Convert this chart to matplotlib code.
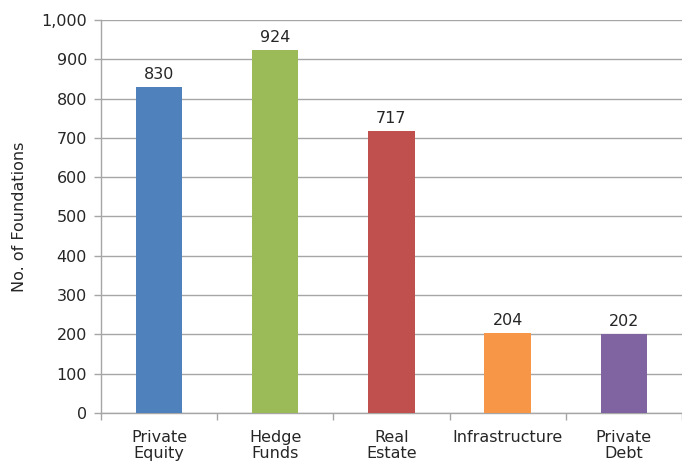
import numpy as np
from matplotlib import pyplot as plt
from matplotlib.ticker import FuncFormatter

# Number of foundations investing in each alternative asset class
categories = ['Private\nEquity', 'Hedge\nFunds', 'Real\nEstate', 'Infrastructure', 'Private\nDebt']
foundations = [830, 924, 717, 204, 202]
colors = ['#4F81BD', '#9BBB59', '#C0504D', '#F79646', '#8064A2']

plt.rcParams['font.family'] = ['DejaVu Sans']
grey = '#A6A6A6'
text_col = '#262626'

fig = plt.figure(figsize=(6.82, 4.66), dpi=100)
ax = fig.add_axes([0.148, 0.114, 0.852, 0.843])

x = np.arange(len(categories))
ax.bar(x, foundations, width=0.4, color=colors, zorder=3)
for xi, v in zip(x, foundations):
    ax.text(xi, v + 12, f'{v:,}', ha='center', va='bottom', fontsize=11.5, color=text_col)

ax.set_xlim(-0.5, len(categories) - 0.5)
ax.set_ylim(0, 1000)
ax.set_yticks(range(0, 1001, 100))
ax.yaxis.set_major_formatter(FuncFormatter(lambda v, p: f'{int(v):,}'))
ax.grid(axis='y', color=grey, linewidth=1, zorder=0)

# labels sit under the bars, tick marks sit between categories
ax.set_xticks(x)
ax.set_xticklabels(categories, fontsize=11.5, color=text_col, linespacing=1.15)
ax.tick_params(axis='x', length=0, pad=12)
ax.set_xticks(np.arange(-0.5, len(categories)), minor=True)
ax.tick_params(axis='x', which='minor', length=5, color=grey, width=1)
ax.tick_params(axis='y', length=5, color=grey, width=1, labelsize=11.5, labelcolor=text_col, pad=5)

ax.set_ylabel('No. of Foundations', fontsize=11.5, color=text_col, labelpad=10)

for side in ['top', 'right']:
    ax.spines[side].set_visible(False)
for side in ['left', 'bottom']:
    ax.spines[side].set_color(grey)
    ax.spines[side].set_linewidth(1)

fig.savefig('out.png', dpi=100)
